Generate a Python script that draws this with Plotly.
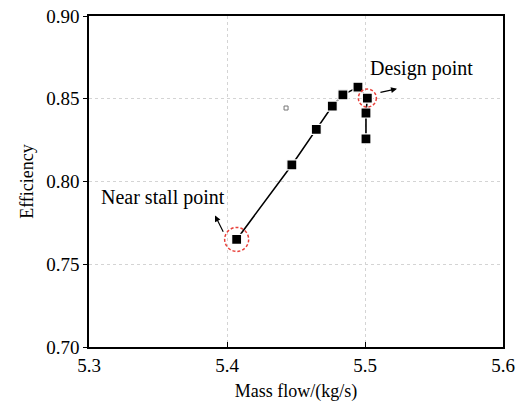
import plotly.graph_objects as go

mass_flow = [5.407, 5.447, 5.4647, 5.4763, 5.484, 5.4949, 5.5017, 5.5007, 5.5007]
efficiency = [0.765, 0.810, 0.8315, 0.8456, 0.8524, 0.857, 0.8504, 0.8414, 0.8257]
stray_x = [5.4428]
stray_y = [0.8444]
x_ticks = [5.3, 5.4, 5.5, 5.6]
y_ticks = [0.70, 0.75, 0.80, 0.85, 0.90]

stall_pt = (mass_flow[0], efficiency[0])
design_pt = (mass_flow[6], efficiency[6])

FONT = "Liberation Serif"

fig = go.Figure()
fig.add_trace(go.Scatter(
    x=mass_flow, y=efficiency, mode="lines+markers",
    line=dict(color="black", width=1.6),
    marker=dict(symbol="square", size=10, color="black",
                line=dict(color="white", width=1.2)),
    showlegend=False))
fig.add_trace(go.Scatter(
    x=stray_x, y=stray_y, mode="markers",
    marker=dict(symbol="square-open", size=4, color="#777777",
                line=dict(width=1)),
    showlegend=False))

for (cx, cy), r in [(stall_pt, 12), (design_pt, 9)]:
    fig.add_shape(type="circle", xref="x", yref="y",
                  xsizemode="pixel", ysizemode="pixel",
                  xanchor=cx, yanchor=cy, x0=-r, x1=r, y0=-r, y1=r,
                  line=dict(color="#e8403a", width=1.5, dash="3px,2px"))

fig.add_annotation(x=5.541, y=0.868, xref="x", yref="y", text="Design point",
                   showarrow=False, font=dict(family=FONT, size=20, color="black"))
fig.add_annotation(x=5.3533, y=0.7904, xref="x", yref="y", text="Near stall point",
                   showarrow=False, font=dict(family=FONT, size=20, color="black"))
fig.add_annotation(x=5.5232, y=0.856, ax=5.5101, ay=0.8536, xref="x", yref="y",
                   axref="x", ayref="y", text="", showarrow=True,
                   arrowhead=2, arrowsize=1, arrowwidth=1.2, arrowcolor="black")
fig.add_annotation(x=5.3913, y=0.7795, ax=5.3978, ay=0.7687, xref="x", yref="y",
                   axref="x", ayref="y", text="", showarrow=True,
                   arrowhead=2, arrowsize=1, arrowwidth=1.2, arrowcolor="black")

fig.update_layout(
    template="none",
    width=532, height=408,
    margin=dict(l=89, r=29, t=16, b=61),
    paper_bgcolor="white", plot_bgcolor="white",
    font=dict(family=FONT, size=18, color="black"),
)
fig.update_xaxes(
    range=[5.3, 5.6], tickvals=x_ticks,
    ticktext=[f"{v:.1f}" for v in x_ticks],
    tickfont=dict(family=FONT, size=19, color="black"),
    showline=True, linecolor="black", linewidth=1.5, mirror=True,
    ticks="inside", ticklen=5, tickcolor="black",
    showgrid=True, gridcolor="#d4d4d4", griddash="dot", gridwidth=1,
    zeroline=False,
    title=dict(text="Mass flow/(kg/s)", standoff=10,
               font=dict(family=FONT, size=18, color="black")),
)
fig.update_yaxes(
    range=[0.70, 0.90], tickvals=y_ticks,
    ticktext=[f"{v:.2f}" for v in y_ticks],
    tickfont=dict(family=FONT, size=19, color="black"),
    showline=True, linecolor="black", linewidth=1.5, mirror=True,
    ticks="outside", ticklen=4, tickcolor="black",
    showgrid=True, gridcolor="#d4d4d4", griddash="dot", gridwidth=1,
    zeroline=False,
    title=dict(text="Efficiency", standoff=8,
               font=dict(family=FONT, size=18, color="black")),
)

fig.write_html("out.html")
